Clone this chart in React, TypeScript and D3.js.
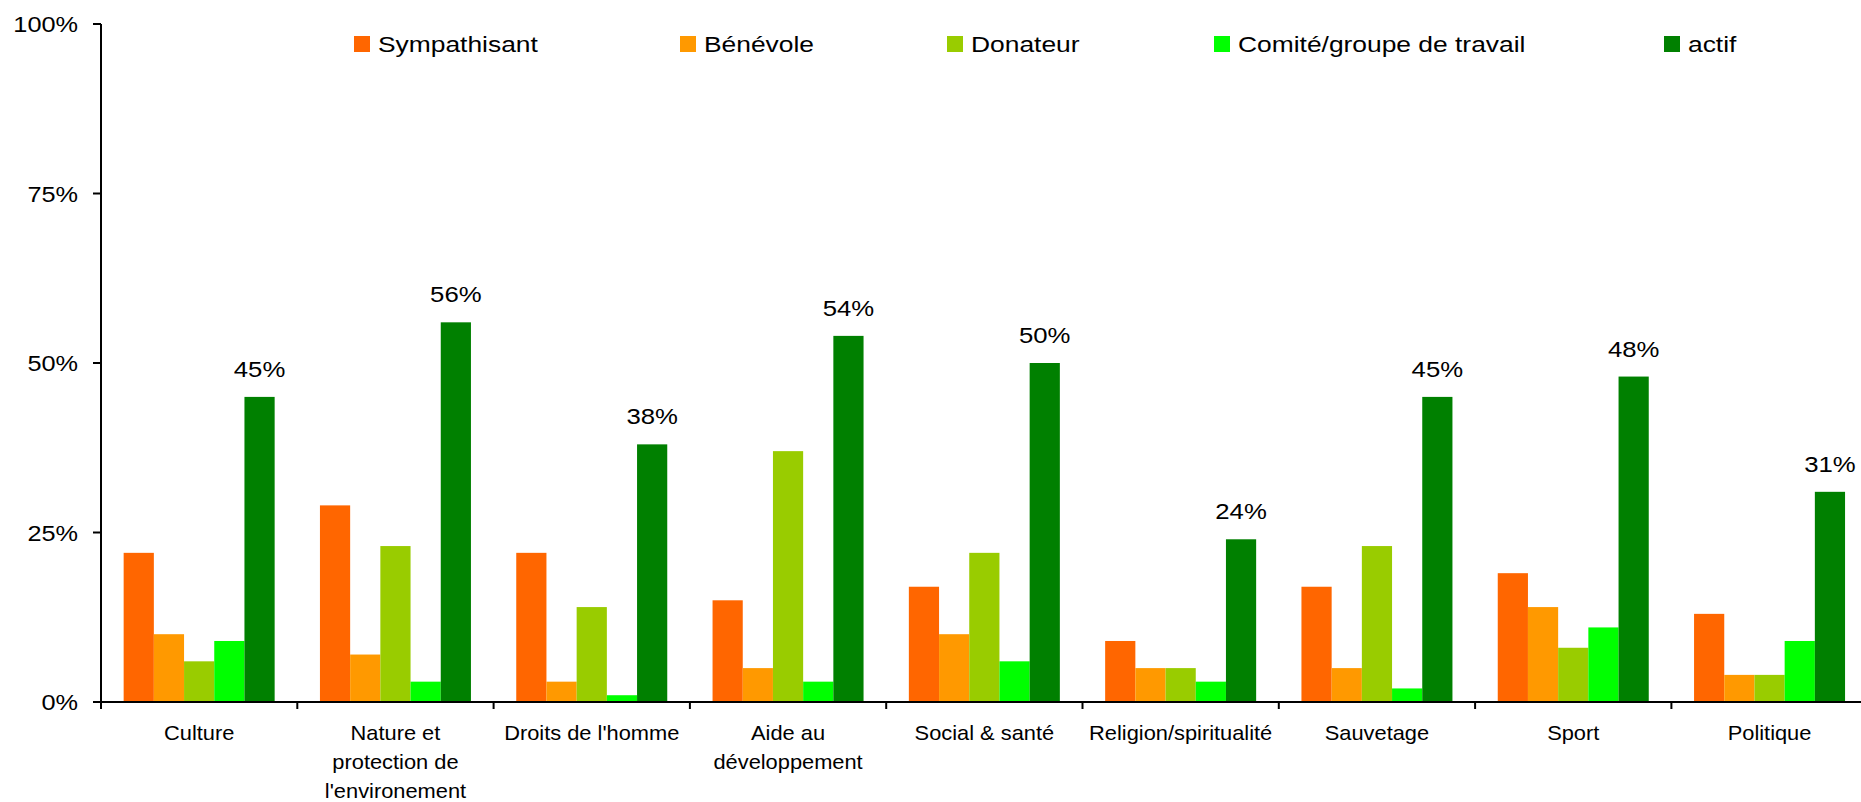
import React from 'react';
import * as d3 from 'd3';

const categories = [
  'Culture',
  "Nature et\nprotection de\nl'environement",
  "Droits de l'homme",
  'Aide au\ndéveloppement',
  'Social & santé',
  'Religion/spiritualité',
  'Sauvetage',
  'Sport',
  'Politique',
];

const seriesNames = ['Sympathisant', 'Bénévole', 'Donateur', 'Comité/groupe de travail', 'actif'];
const seriesColors = ['#FF6600', '#FF9900', '#99CC00', '#00FF00', '#008000'];

// one array per series, in category order (percent)
const sympathisant = [22, 29, 22, 15, 17, 9, 17, 19, 13];
const benevole = [10, 7, 3, 5, 10, 5, 5, 14, 4];
const donateur = [6, 23, 14, 37, 22, 5, 23, 8, 4];
const comite = [9, 3, 1, 3, 6, 3, 2, 11, 9];
const actif = [45, 56, 38, 54, 50, 24, 45, 48, 31];

const seriesValues = [sympathisant, benevole, donateur, comite, actif];
const yTicks = [0, 25, 50, 75, 100];

// legend x positions (Excel spreads the entries unevenly)
const legendX = [354, 680, 947, 1214, 1664];

const W = 1861;
const H = 802;
const FONT = 'Arial, "Liberation Sans", sans-serif';

const App = () => {
  const left = 101;
  const step = 196.3;
  const x0 = d3.scaleBand<string>()
    .domain(categories)
    .range([left, left + step * categories.length])
    .paddingInner(0)
    .paddingOuter(0);
  const x1 = d3.scaleBand<number>()
    .domain(d3.range(seriesNames.length))
    .range([0, x0.bandwidth()])
    .paddingInner(0)
    .paddingOuter(0.75);
  const y = d3.scaleLinear().domain([0, 100]).range([702, 24]);

  return (
    <svg width={W} height={H} style={{ position: 'absolute', left: 0, top: 0, background: '#fff' }}
      fontFamily={FONT}>
      {/* bars */}
      {categories.map((c, ci) => (
        <g key={c} transform={`translate(${x0(c)},0)`}>
          {seriesValues.map((vals, si) => (
            <rect key={si}
              x={x1(si)}
              y={y(vals[ci])}
              width={x1.bandwidth()}
              height={y(0) - y(vals[ci])}
              fill={seriesColors[si]} />
          ))}
          {/* value label on the actif bar */}
          <text
            transform={`translate(${(x1(4) as number) + x1.bandwidth() / 2},${y(actif[ci]) - 20}) scale(1.12,1)`}
            textAnchor="middle" fontSize={23} fill="#000">
            {actif[ci]}%
          </text>
        </g>
      ))}

      {/* y axis */}
      <line x1={left} x2={left} y1={y(100)} y2={y(0) + 1} stroke="#000" strokeWidth={2} />
      {yTicks.map(t => (
        <g key={t}>
          <line x1={left - 8} x2={left} y1={y(t)} y2={y(t)} stroke="#000" strokeWidth={2} />
          <text transform={`translate(78,${y(t) + 8}) scale(1.15,1)`} textAnchor="end" fontSize={22} fill="#000">
            {t}%
          </text>
        </g>
      ))}

      {/* x axis */}
      <line x1={left - 8} x2={W} y1={y(0)} y2={y(0)} stroke="#000" strokeWidth={2} />
      {categories.map((c, i) => (
        <line key={'t' + i} x1={x0(c)} x2={x0(c)} y1={y(0)} y2={y(0) + 7} stroke="#000" strokeWidth={2} />
      ))}
      {categories.map(c => (
        <text key={'l' + c}
          transform={`translate(${(x0(c) as number) + x0.bandwidth() / 2},740) scale(1.04,1)`}
          textAnchor="middle" fontSize={21} fill="#000">
          {c.split('\n').map((line, li) => (
            <tspan key={li} x={0} y={li * 29}>{line}</tspan>
          ))}
        </text>
      ))}

      {/* legend */}
      {seriesNames.map((s, i) => (
        <g key={s} transform={`translate(${legendX[i]},36)`}>
          <rect x={0} y={0} width={16} height={16} fill={seriesColors[i]} />
          <text transform="translate(24,16) scale(1.2,1)" fontSize={22} fill="#000">{s}</text>
        </g>
      ))}
    </svg>
  );
};

export default App;
